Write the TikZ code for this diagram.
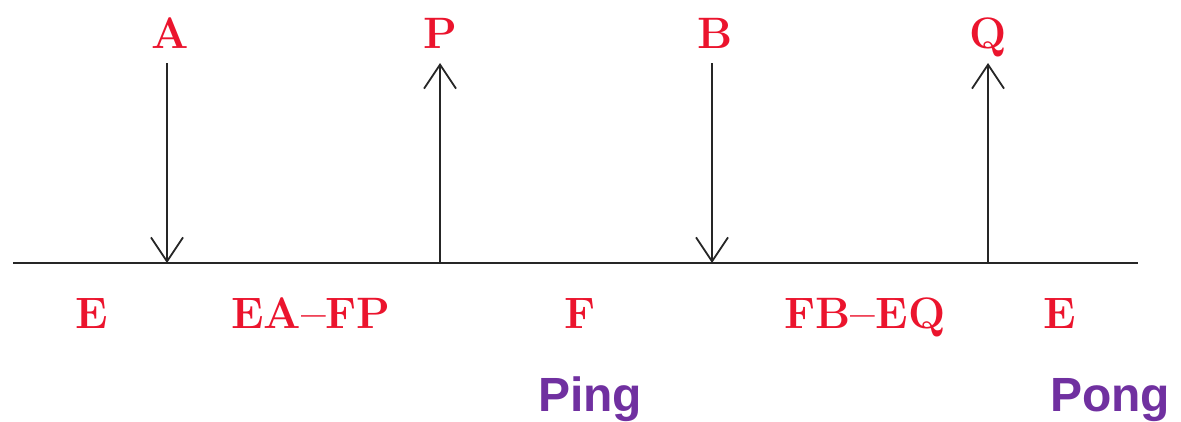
\documentclass[tikz,border=0pt]{standalone}
\usepackage{fontspec}
\newfontfamily\pingfont{Liberation Sans}
\usetikzlibrary{arrows.meta}
\definecolor{lblred}{RGB}{235,20,45}
\definecolor{pingpurple}{RGB}{112,48,160}
\begin{document}
\begin{tikzpicture}[x=1pt,y=-1pt,
  lbl/.style={text=lblred,font=\bfseries\fontsize{44}{48}\selectfont,inner sep=0pt,anchor=base},
  pp/.style={text=pingpurple,font=\pingfont\bfseries\fontsize{48}{52}\selectfont,inner sep=0pt,anchor=base},
  axis/.style={line width=2pt,draw=black!85},
  arr/.style={line width=1.8pt,draw=black!85,-{Straight Barb[length=24pt,width=32pt,line width=1.8pt]}}]
\useasboundingbox (0,0) rectangle (1181,421);
\draw[axis] (13,263) coordinate (L) -- (1138,263) coordinate (R);
\coordinate (a) at (167,263);
\coordinate (p) at (440,263);
\coordinate (b) at (712,263);
\coordinate (q) at (988,263);
\node[lbl] (A) at (170,48) {A};
\node[lbl] (P) at (440,48) {P};
\node[lbl] (B) at (715,48) {B};
\node[lbl] (Q) at (988,48) {Q};
\draw[arr] (A.base -| a) ++(0,15) -- (a);
\draw[arr] (p) -- ([yshift=-15pt]P.base -| p);
\draw[arr] (B.base -| b) ++(0,15) -- (b);
\draw[arr] (q) -- ([yshift=-15pt]Q.base -| q);
\node[lbl] (e1) at (92,328) {E};
\node[lbl] (eafp) at (311,328) {EA--FP};
\node[lbl] (f) at (580,328) {F};
\node[lbl] (fbeq) at (865,328) {FB--EQ};
\node[lbl] (e2) at (1060,328) {E};
\node[pp] (ping) at (590,411) {Ping};
\node[pp] (pong) at (1110,411) {Pong};
\end{tikzpicture}
\end{document}
